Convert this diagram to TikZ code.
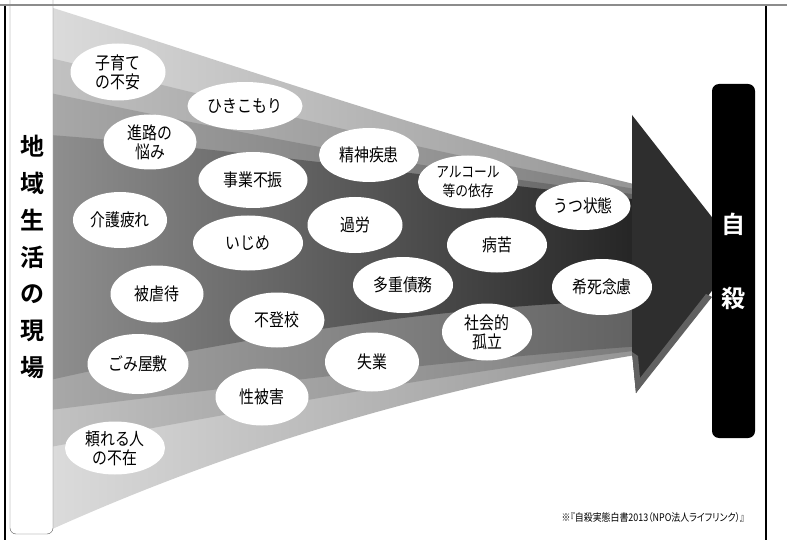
\documentclass[tikz,border=0pt]{standalone}
\usepackage{fontspec}
\newfontfamily\jp[FakeStretch=0.85]{Noto Sans CJK JP}
\newfontfamily\jpp[FakeStretch=0.85,RawFeature=+palt]{Noto Sans CJK JP}
\newfontfamily\jpb{Noto Sans CJK JP Bold}
\usetikzlibrary{shapes.geometric}
\tikzset{
  bub/.style={ellipse, fill=white, draw=none, inner sep=0pt, align=center,
    font=\jp\fontsize{17.5}{19}\selectfont, minimum width=96pt, minimum height=55pt},
  vtext/.style={align=center, inner sep=0pt, font=\jpb\fontsize{24}{36.7}\selectfont},
  suibox/.style={fill=black, rounded corners=7pt, minimum width=43pt, minimum height=354pt,
    inner sep=0pt, align=center, text=white, font=\jpb\fontsize{24}{74}\selectfont},
  leftbox/.style={draw=black!65, fill=white, rounded corners=6pt, minimum width=43pt,
    minimum height=545pt, inner sep=0pt},
  credit/.style={inner sep=0pt, font=\jpp\fontsize{10.5}{12}\selectfont}
}
\begin{document}
\begin{tikzpicture}[x=1pt,y=-1pt]
\useasboundingbox (0,0) rectangle (787,540);
\fill[white] (0,0) rectangle (787,540);
% funnel layers
\shade[left color=black!14, right color=black!42]
  (50,7) .. controls (250,70) and (450,140) .. (642,186) -- (642,354)
  .. controls (450,385) and (250,440) .. (50,530) -- cycle;
\shade[left color=black!24, right color=black!52]
  (50,58) .. controls (250,105) and (450,160) .. (642,190) -- (642,350)
  .. controls (450,372) and (250,410) .. (50,447) -- cycle;
\shade[left color=black!34, right color=black!62]
  (50,93) .. controls (250,135) and (450,175) .. (642,195) -- (642,346)
  .. controls (450,360) and (250,385) .. (50,410) -- cycle;
\shade[left color=black!44, middle color=black!76, right color=black!86]
  (50,135) .. controls (250,150) and (450,180) .. (642,200) -- (642,300)
  .. controls (450,305) and (250,335) .. (50,380) -- cycle;
% arrow head
\fill[black!82] (632,115) -- (740,253) -- (636,393) -- (632,352) -- (632,185) -- cycle;
\fill[black!62] (632,352) -- (636,393) -- (712,297) -- (706,294) -- (640,378) -- (638,356) -- cycle;
% suicide box
\node[suibox] (sui) at (733.5,261) {自\\殺};
% bubbles
\node[bub, minimum width=95pt, minimum height=57pt] (b1) at (118,72) {子育て\\の不安};
\node[bub, minimum width=115pt, minimum height=48pt] (b2) at (245,106) {ひきこもり};
\node[bub, minimum width=93pt, minimum height=55pt] (b3) at (150,142) {進路の\\悩み};
\node[bub, minimum width=109pt, minimum height=56pt] (b4) at (253,180) {事業不振};
\node[bub, minimum width=100pt, minimum height=54pt] (b5) at (369,155) {精神疾患};
\node[bub, minimum width=100pt, minimum height=53pt, font=\jp\fontsize{15}{19}\selectfont] (b6) at (468,182) {アルコール\\等の依存};
\node[bub, minimum width=95pt, minimum height=48pt] (b7) at (583,206) {うつ状態};
\node[bub, minimum width=94pt, minimum height=56pt] (b8) at (120,220) {介護疲れ};
\node[bub, minimum width=110pt, minimum height=55pt] (b9) at (248,243) {いじめ};
\node[bub, minimum width=95pt, minimum height=56pt] (b10) at (355,225) {過労};
\node[bub, minimum width=100pt, minimum height=55pt] (b11) at (497,245) {病苦};
\node[bub, minimum width=93pt, minimum height=57pt] (b12) at (157,294) {被虐待};
\node[bub, minimum width=100pt, minimum height=56pt] (b13) at (403,285) {多重債務};
\node[bub, minimum width=100pt, minimum height=56pt] (b14) at (602,287) {希死念慮};
\node[bub, minimum width=95pt, minimum height=55pt] (b15) at (277,320) {不登校};
\node[bub, minimum width=90pt, minimum height=57pt] (b16) at (487,332) {社会的\\孤立};
\node[bub, minimum width=101pt, minimum height=60pt] (b17) at (138,364) {ごみ屋敷};
\node[bub, minimum width=94pt, minimum height=59pt] (b18) at (372,362) {失業};
\node[bub, minimum width=93pt, minimum height=57pt] (b19) at (262,397) {性被害};
\node[bub, minimum width=100pt, minimum height=53pt] (b20) at (115,448) {頼れる人\\の不在};
% left box
\node[leftbox] (gen) at (31.5,261.5) {};
\node[vtext] (genl) at (32,257) {地\\域\\生\\活\\の\\現\\場};
% frame
\draw[black!45, line width=2pt] (0,5) -- (787,5);
\draw[black, line width=1.5pt] (5,6) -- (5,540);
\draw[black, line width=1.8pt] (766,6) -- (766,540);
% credit
\node[credit] (src) at (653,518) {※『自殺実態白書2013（NPO法人ライフリンク）』};
\end{tikzpicture}
\end{document}
